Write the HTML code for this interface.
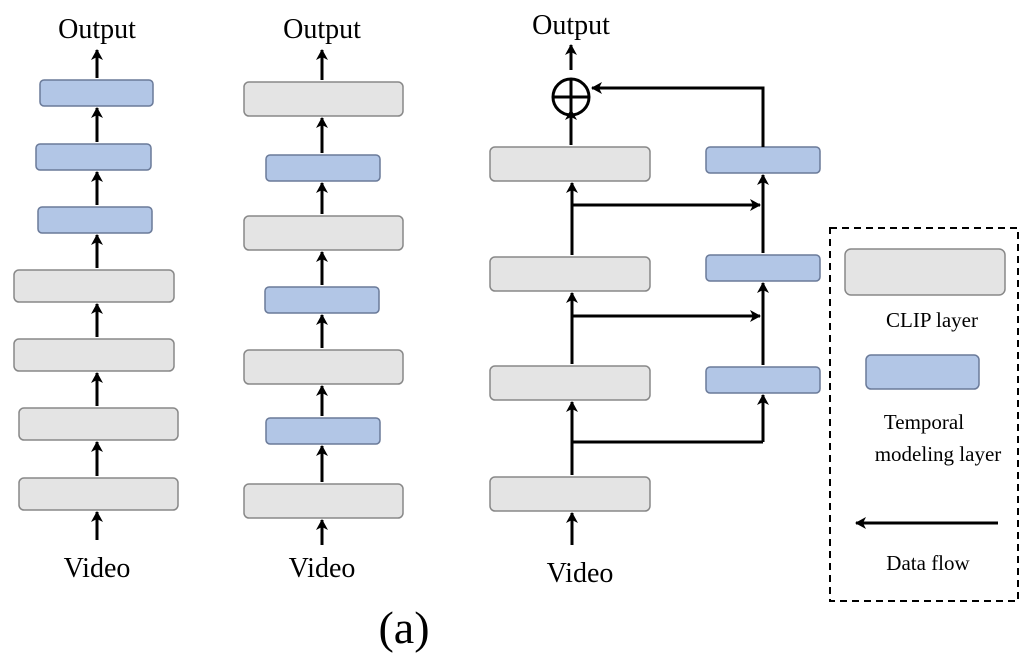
<!DOCTYPE html>
<html><head><style>body{margin:0;background:#fff}svg{display:block}text{font-family:"Liberation Serif",serif;fill:#000}</style></head><body>
<svg width="1025" height="655" viewBox="0 0 1025 655" xmlns="http://www.w3.org/2000/svg">
<defs><marker id="a" markerWidth="12" markerHeight="12" refX="10" refY="6" orient="auto" markerUnits="userSpaceOnUse"><path d="M0,0 L11,6 L0,12 L3,6 Z" fill="#000"/></marker></defs>
<g stroke="#888" stroke-width="1.5">
<g fill="#e4e4e4">
<rect x="14" y="270" width="160" height="32" rx="5"/><rect x="14" y="339" width="160" height="32" rx="5"/><rect x="19" y="408" width="159" height="32" rx="5"/><rect x="19" y="478" width="159" height="32" rx="5"/>
<rect x="244" y="82" width="159" height="34" rx="5"/><rect x="244" y="216" width="159" height="34" rx="5"/><rect x="244" y="350" width="159" height="34" rx="5"/><rect x="244" y="484" width="159" height="34" rx="5"/>
<rect x="490" y="147" width="160" height="34" rx="5"/><rect x="490" y="257" width="160" height="34" rx="5"/><rect x="490" y="366" width="160" height="34" rx="5"/><rect x="490" y="477" width="160" height="34" rx="5"/>
<rect x="845" y="249" width="160" height="46" rx="6"/>
</g>
<g fill="#b2c6e6" stroke="#6a7a99">
<rect x="40" y="80" width="113" height="26" rx="4"/><rect x="36" y="144" width="115" height="26" rx="4"/><rect x="38" y="207" width="114" height="26" rx="4"/>
<rect x="266" y="155" width="114" height="26" rx="4"/><rect x="265" y="287" width="114" height="26" rx="4"/><rect x="266" y="418" width="114" height="26" rx="4"/>
<rect x="706" y="147" width="114" height="26" rx="4"/><rect x="706" y="255" width="114" height="26" rx="4"/><rect x="706" y="367" width="114" height="26" rx="4"/>
<rect x="866" y="355" width="113" height="34" rx="5"/>
</g></g>
<g stroke="#000" stroke-width="3" fill="none" marker-end="url(#a)">
<line x1="97" y1="78" x2="97" y2="50"/><line x1="97" y1="142" x2="97" y2="108"/><line x1="97" y1="205" x2="97" y2="172"/><line x1="97" y1="268" x2="97" y2="235"/><line x1="97" y1="337" x2="97" y2="304"/><line x1="97" y1="406" x2="97" y2="373"/><line x1="97" y1="476" x2="97" y2="442"/><line x1="97" y1="540" x2="97" y2="512"/>
<line x1="322" y1="80" x2="322" y2="50"/><line x1="322" y1="153" x2="322" y2="118"/><line x1="322" y1="214" x2="322" y2="183"/><line x1="322" y1="285" x2="322" y2="252"/><line x1="322" y1="348" x2="322" y2="315"/><line x1="322" y1="416" x2="322" y2="386"/><line x1="322" y1="482" x2="322" y2="446"/><line x1="322" y1="545" x2="322" y2="520"/>
<line x1="571" y1="70" x2="571" y2="45"/><line x1="571" y1="145" x2="571" y2="110"/>
<line x1="572" y1="255" x2="572" y2="183"/><line x1="572" y1="364" x2="572" y2="293"/><line x1="572" y1="475" x2="572" y2="402"/><line x1="572" y1="545" x2="572" y2="513"/>
<line x1="572" y1="205" x2="760" y2="205"/><line x1="572" y1="316" x2="760" y2="316"/><line x1="572" y1="442" x2="763" y2="442" marker-end="none"/>
<line x1="763" y1="442" x2="763" y2="395"/><line x1="763" y1="365" x2="763" y2="283"/><line x1="763" y1="253" x2="763" y2="175"/>
<polyline points="763,147 763,88 592,88"/>
<line x1="998" y1="523" x2="856" y2="523"/>
</g>
<circle cx="571" cy="97" r="18" fill="none" stroke="#000" stroke-width="3"/>
<line x1="553" y1="97" x2="589" y2="97" stroke="#000" stroke-width="3"/><line x1="571" y1="79" x2="571" y2="115" stroke="#000" stroke-width="3"/>
<rect x="830" y="228" width="188" height="373" fill="none" stroke="#000" stroke-width="2" stroke-dasharray="7,5"/>
<g font-size="28" text-anchor="middle">
<text x="97" y="38">Output</text><text x="322" y="38">Output</text><text x="571" y="34">Output</text>
<text x="97" y="577">Video</text><text x="322" y="577">Video</text><text x="580" y="582">Video</text>
</g>
<g font-size="21" text-anchor="middle">
<text x="932" y="327">CLIP layer</text><text x="924" y="429">Temporal</text><text x="938" y="461">modeling layer</text><text x="928" y="570">Data flow</text>
</g>
<text x="404" y="643" font-size="46" text-anchor="middle">(a)</text>
</svg>
</body></html>
